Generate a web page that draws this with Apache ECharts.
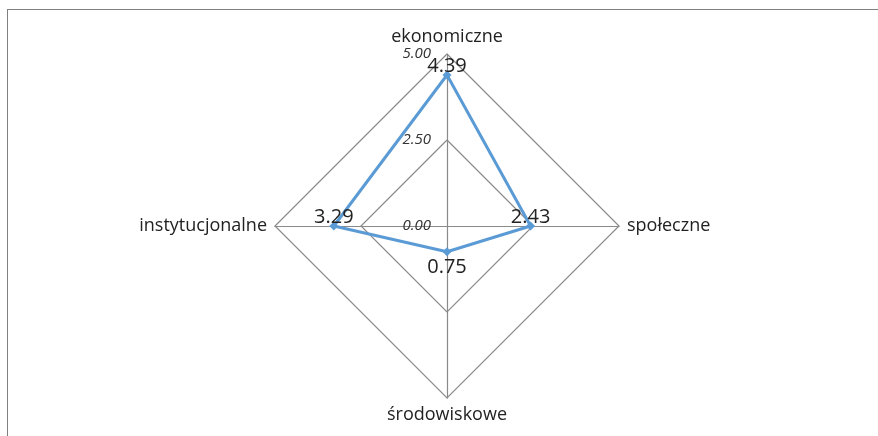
<!DOCTYPE html>
<html>
<head>
<meta charset="utf-8">
<script src="https://cdn.jsdelivr.net/npm/echarts@6/dist/echarts.min.js"></script>
<style>
  html, body { margin: 0; padding: 0; background: #fff; }
  #chart { width: 878px; height: 436px; }
  .frame {
    position: absolute; left: 7px; top: 9px; width: 880px; height: 440px;
    border-top: 1px solid #7f7f7f; border-left: 1px solid #7f7f7f;
  }
</style>
</head>
<body>
<div class="frame"></div>
<div id="chart" style="position:absolute;left:0;top:0"></div>
<script>
// listed counter-clockwise from the top, as ECharts lays radar axes out
const indicators = ['ekonomiczne', 'instytucjonalne', 'środowiskowe', 'społeczne']
const values = [4.39, 3.29, 0.75, 2.43]
const axisMax = 5
// label below the point only for the bottom axis
const labelBelow = [false, false, true, false]

const chart = echarts.init(document.getElementById('chart'))

const baseLabel = {
  show: true,
  color: '#222',
  fontSize: 20,
  fontFamily: 'Open Sans'
}

chart.setOption({
  animation: false,
  radar: {
    center: [447, 226],
    radius: 172,
    startAngle: 90,
    shape: 'polygon',
    splitNumber: 2,
    nameGap: 8,
    axisName: {
      color: '#222',
      fontSize: 18,
      fontFamily: 'Open Sans'
    },
    indicator: indicators.map((name, i) => ({
      name,
      min: 0,
      max: axisMax,
      axisLabel: i === 0 ? {
        show: true,
        showMinLabel: true,
        fontStyle: 'italic',
        fontSize: 15,
        margin: 16,
        color: '#333',
        fontFamily: 'Open Sans',
        formatter: v => v.toFixed(2)
      } : undefined
    })),
    axisLine: { lineStyle: { color: '#8a8a8a', width: 1.2 } },
    splitLine: { lineStyle: { color: '#8a8a8a', width: 1.2 } },
    splitArea: { show: false }
  },
  series: [
    {
      type: 'radar',
      symbol: 'diamond',
      symbolSize: 9,
      lineStyle: { color: '#5b9bd5', width: 3 },
      itemStyle: { color: '#5b9bd5' },
      label: {
        ...baseLabel,
        position: 'top',
        distance: -6,
        formatter: p => labelBelow[p.dimensionIndex] ? '' : values[p.dimensionIndex].toFixed(2)
      },
      data: [{ value: values }]
    },
    {
      type: 'radar',
      symbol: 'circle',
      symbolSize: 9,
      lineStyle: { color: 'transparent', width: 0 },
      itemStyle: { color: 'transparent' },
      silent: true,
      label: {
        ...baseLabel,
        position: 'bottom',
        distance: 1,
        formatter: p => labelBelow[p.dimensionIndex] ? values[p.dimensionIndex].toFixed(2) : ''
      },
      data: [{ value: values }]
    }
  ]
})
</script>
</body>
</html>
